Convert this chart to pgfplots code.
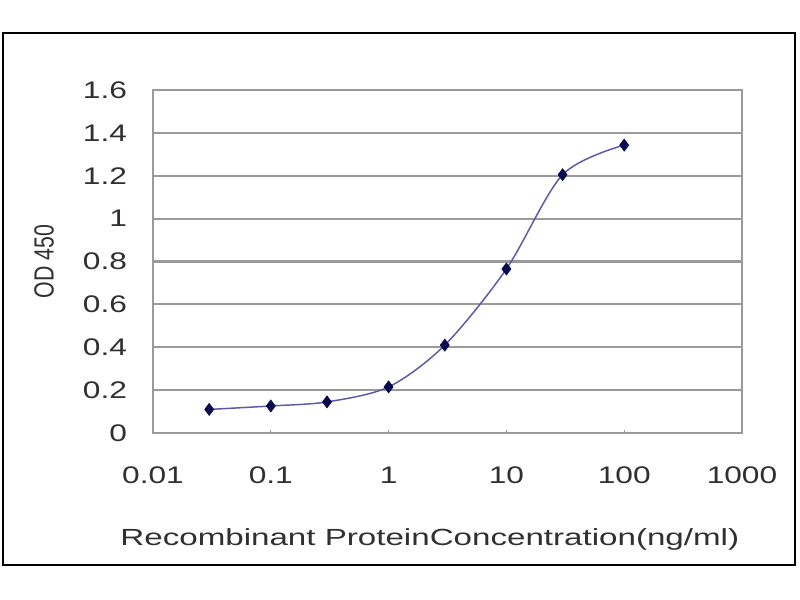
\documentclass[border=0pt]{standalone}
\usepackage{pgfplots}
\pgfplotsset{compat=1.18}
\usepackage{fontspec}
\setmainfont{Liberation Sans}
\newfontfamily\tickfont[FakeStretch=1.32]{Liberation Sans}
\newfontfamily\labfont[FakeStretch=1.42]{Liberation Sans}
\definecolor{txt}{HTML}{303030}
\definecolor{gridc}{HTML}{9A9A9A}
\definecolor{linec}{HTML}{5A5AA8}
\definecolor{markc}{HTML}{0A0A50}
\begin{document}
\begin{tikzpicture}[x=1pt,y=1pt]
% page area 800x600 px, 1px = 0.75pt
\path[fill=white] (0,0) rectangle (600,450);
\draw[black, line width=2.2pt] (2.25,26.25) rectangle (596.25,425.25);
\begin{axis}[
  at={(114.75pt,125.25pt)}, anchor=south west,
  scale only axis, width=441.75pt, height=257.25pt,
  xmode=log, xmin=0.01, xmax=1000,
  ymin=0, ymax=1.6,
  xtick={0.01,0.1,1,10,100,1000},
  xticklabels={0.01,0.1,1,10,100,1000},
  ytick={0,0.2,...,1.6},
  yticklabels={0,0.2,0.4,0.6,0.8,1,1.2,1.4,1.6},
  xminorticks=false,
  ymajorgrids, grid style={gridc, line width=1.6pt},
  axis line style={gridc, line width=1.4pt},
  xtick pos=bottom, ytick pos=left,
  tick align=inside, major tick length=2.5pt,
  tick style={gridc, line width=1pt},
  ticklabel style={font=\tickfont\fontsize{18}{20}\selectfont, text=txt},
  xticklabel style={yshift=-22pt},
  yticklabel style={xshift=-16pt},
  xlabel={\labfont\fontsize{17.5}{20}\selectfont Recombinant ProteinConcentration(ng/ml)},
  ylabel={\scalebox{1}[1.3]{\fontsize{16}{18}\selectfont OD 450}},
  label style={text=txt},
  xlabel style={at={(axis description cs:0.47,-0.31)}, anchor=center},
  ylabel style={at={(axis description cs:-0.185,0.5)}, anchor=center},
  /pgf/number format/assume math mode=true,
]
\addplot[linec, line width=1.1pt, smooth, mark=diamond*, mark size=4.5pt,
  mark options={markc, fill=markc, line width=0.5pt}]
  coordinates {(0.03,0.11) (0.1,0.126) (0.3,0.145) (1,0.215) (3,0.41) (10,0.765) (30,1.205) (100,1.343)};
\end{axis}
\end{tikzpicture}
\end{document}
